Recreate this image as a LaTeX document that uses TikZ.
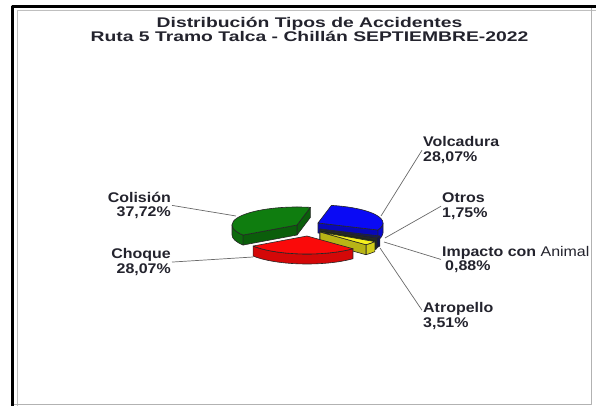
\documentclass[tikz,border=0pt]{standalone}
\usepackage{fontspec}
\setmainfont{Liberation Sans}
\newfontfamily\titlefont[FakeStretch=1.38]{Liberation Sans}
\newfontfamily\labelfont[FakeStretch=1.14]{Liberation Sans}
\usepackage {tikz}
\usetikzlibrary {calc}
\definecolor {textgray}{RGB}{35,35,45}
\definecolor {leadergray}{RGB}{105,105,105}
\definecolor {piegreen}{RGB}{15,125,15}
\definecolor {piered}{RGB}{250,10,10}
\definecolor {pieblue}{RGB}{10,10,245}
\definecolor {pieyellow}{RGB}{245,240,30}
\definecolor {pienavy}{RGB}{20,25,95}
\definecolor {pieolive}{RGB}{35,55,30}

\def\dep{10pt}
% one exploded slice: fill colour, apex, start angle, end angle
\newcommand{\pieslice}[4]{%
  \pgfmathsetmacro\wa{max(#3,-180)}
  \pgfmathsetmacro\wb{min(#4,0)}
  \ifdim\wa pt<\wb pt
    \filldraw[piewall, fill=#1!85!black] ($(#2)+(\wa:65pt and 18pt)$)
      arc[start angle=\wa, end angle=\wb, x radius=65pt, y radius=18pt]
      -- ++(0pt,-\dep)
      arc[start angle=\wb, end angle=\wa, x radius=65pt, y radius=18pt] -- cycle;
  \fi
  \pgfmathsetmacro\cs{cos(#3)}
  \ifdim\cs pt>0pt
    \filldraw[piewall, fill=#1!75!black] (#2) -- ($(#2)+(#3:65pt and 18pt)$)
      -- ++(0pt,-\dep) -- ($(#2)+(0pt,-\dep)$) -- cycle;
  \fi
  \pgfmathsetmacro\ce{cos(#4)}
  \ifdim\ce pt<0pt
    \filldraw[piewall, fill=#1!75!black] (#2) -- ($(#2)+(#4:65pt and 18pt)$)
      -- ++(0pt,-\dep) -- ($(#2)+(0pt,-\dep)$) -- cycle;
  \fi
  \filldraw[piewall, fill=#1] (#2) -- ($(#2)+(#3:65pt and 18pt)$)
    arc[start angle=#3, end angle=#4, x radius=65pt, y radius=18pt] -- cycle;
}

\begin{document}
\begin{tikzpicture}[x=1pt,y=1pt,line join=round]
  \tikzstyle{piewall}=[draw=black!85, line width=0.6pt]
  \tikzstyle{lbl}=[font=\labelfont\bfseries\fontsize{14}{14.5}\selectfont, text=textgray, inner sep=1pt]
  \tikzstyle{leader}=[draw=leadergray, line width=0.7pt]
  \useasboundingbox (0,0) rectangle (596,406);

  % frame
  \draw[black!25, line width=0.6pt] (17,0) -- (17,395.5) -- (596,395.5);
  \draw[black!30, line width=0.8pt] (591.5,399) -- (591.5,1.5) -- (13,1.5);
  \draw[black, line width=2.6pt] (12.5,0) -- (12.5,399.5) -- (596,399.5);

  % title
  \node[font=\titlefont\bfseries\fontsize{14}{14.3}\selectfont, text=textgray, align=center, anchor=base] (title) at (309.5,364)
    {Distribución Tipos de Accidentes\\Ruta 5 Tramo Talca - Chillán SEPTIEMBRE-2022};

  % slice apexes
  \coordinate (colA) at (297,181);
  \coordinate (volA) at (318,183);
  \coordinate (otrA) at (320,177);
  \coordinate (impA) at (320,176);
  \coordinate (atrA) at (320,174);
  \coordinate (choA) at (307,170);

  \pieslice{piegreen}{colA}{-281.9}{-146.1}
  \pieslice{pieblue}{volA}{-22.9}{78.1}
  \pieslice{pienavy}{otrA}{-29.2}{-22.9}
  \pieslice{pieolive}{impA}{-32.4}{-29.2}
  \pieslice{pieyellow}{atrA}{-45}{-32.4}
  \pieslice{piered}{choA}{-146.1}{-45}

  % labels
  \node[lbl, align=right, anchor=base east] (colision) at (172,189.3) {Colisión\\37,72\%};
  \node[lbl, align=right, anchor=base east] (choque) at (172,132.7) {Choque\\28,07\%};
  \node[lbl, align=left, anchor=base west] (volcadura) at (422,244.5) {Volcadura\\28,07\%};
  \node[lbl, align=left, anchor=base west] (otros) at (441,188.7) {Otros\\1,75\%};
  \node[lbl, align=left, anchor=base west] (impacto) at (441,135.3) {Impacto con {\mdseries Animal}\\\hspace{3pt}0,88\%};
  \node[lbl, align=left, anchor=base west] (atropello) at (422,78.7) {Atropello\\3,51\%};

  % leader ends on the pie
  \coordinate (colE) at (236,190);
  \coordinate (choE) at (253,149);
  \coordinate (volE) at (381,190);
  \coordinate (otrE) at (385,168);
  \coordinate (impE) at (384,164);
  \coordinate (atrE) at (380,158);

  \draw[leader] (colision.east) -- (colE);
  \draw[leader] (choque.east) -- (choE);
  \draw[leader] (volcadura.west) -- (volE);
  \draw[leader] (otros.west) -- (otrE);
  \draw[leader] (impacto.west) -- (impE);
  \draw[leader] ($(atropello.north west)!0.3!(atropello.south west)$) -- (atrE);
\end{tikzpicture}
\end{document}
